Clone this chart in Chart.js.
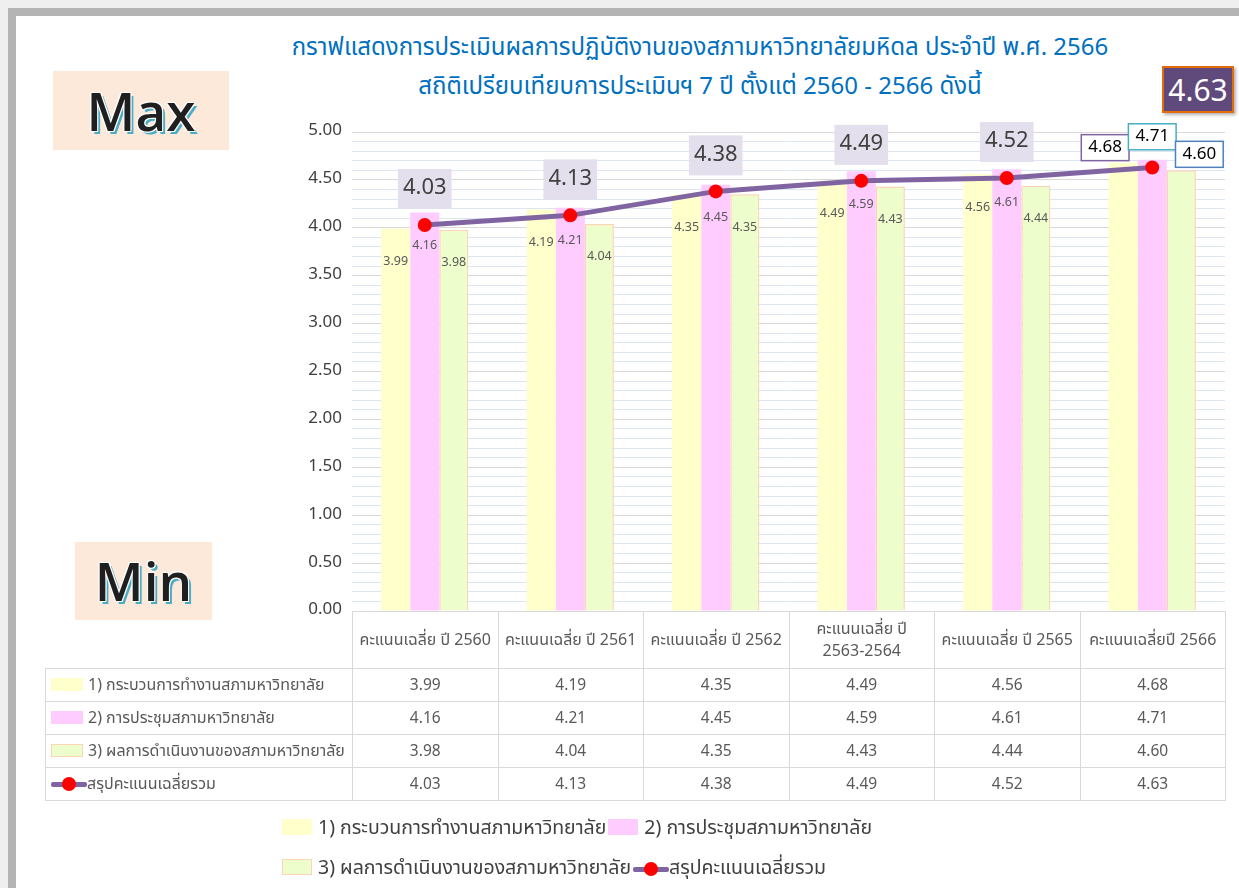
<!DOCTYPE html>
<html>
<head>
<meta charset="utf-8">
<script src="https://cdn.jsdelivr.net/npm/chart.js@4.4.0/dist/chart.umd.min.js"></script>
<style>
  body { margin: 0; width: 1239px; height: 888px; overflow: hidden; background: #efefef; position: relative;
         font-family: 'Noto Sans Thai', Tahoma, 'Noto Sans', 'DejaVu Sans', sans-serif; }
  #frame { position: absolute; left: 8px; top: 8px; right: 0; bottom: 0; background: #b4b4b4; }
  #page { position: absolute; left: 16px; top: 16px; right: 0; bottom: 0; background: #fff; }
  #wrap { position: absolute; left: 0; top: 0; width: 1239px; height: 888px; }
  .title { position: absolute; left: 150px; width: 1100px; text-align: center; color: #0070c0; font-size: 24px; line-height: 30px; }
  .tag { position: absolute; background: #fde9d9; text-align: center; font-family: 'Open Sans', sans-serif; font-weight: 600;
         font-size: 53px; color: #1f1f1f;
         text-shadow: 1px 1px 0 #fff, -1px -1px 0 #fff, 1px -1px 0 #fff, -1px 1px 0 #fff, 3px 3px 0 #4bacc6; }
  #total { position: absolute; left: 1162px; top: 66px; width: 68px; height: 43px; background: #604a7b; border: 2px solid #e46c0a;
           color: #fff; font-size: 30px; line-height: 43px; text-align: center; font-family: 'Noto Sans', sans-serif;
           box-shadow: 2px 2px 3px rgba(0,0,0,0.3); }
  #tbl { position: absolute; left: 45px; top: 611px; width: 1180px; border-collapse: collapse; table-layout: fixed;
         font-size: 15.5px; color: #595959; }
  #tbl td { border: 1px solid #d9d9d9; text-align: center; padding: 0; height: 32px; }
  #tbl tr.hd td { height: 56px; line-height: 22px; font-size: 16px; white-space: pre-line; }
  #tbl td.blank { border: none; border-bottom: 1px solid #d9d9d9; }
  #tbl td.lab { text-align: left; padding-left: 5px; white-space: nowrap; font-size: 16px; }
  .sw { display: inline-block; width: 32px; height: 13px; vertical-align: -1px; margin-right: 5px; box-sizing: border-box; }
  .ln { display: inline-block; width: 36px; height: 14px; position: relative; vertical-align: -2px; }
  .ln::before { content: ''; position: absolute; left: 0; right: 0; top: 5px; height: 5px; background: #8064a2; border-radius: 2px; }
  .ln::after { content: ''; position: absolute; left: 11px; top: 0; width: 14px; height: 14px; border-radius: 50%; background: #ff0000; }
  #legend { position: absolute; left: 282px; top: 814px; font-size: 19.5px; color: #404040; }
  #legend .row { height: 40px; line-height: 28px; white-space: nowrap; }
  #legend .sw { width: 30px; height: 16px; vertical-align: -1px; margin-right: 6px; }
  #legend .item { margin-right: 2px; }
</style>
</head>
<body>
<div id="frame"></div>
<div id="page"></div>
<div class="title" style="top:33px">กราฟแสดงการประเมินผลการปฏิบัติงานของสภามหาวิทยาลัยมหิดล ประจำปี พ.ศ. 2566</div>
<div class="title" style="top:72px">สถิติเปรียบเทียบการประเมินฯ 7 ปี ตั้งแต่ 2560 - 2566 ดังนี้</div>
<div class="tag" style="left:53px;top:71px;width:176px;height:79px;line-height:79px">Max</div>
<div class="tag" style="left:75px;top:542px;width:137px;height:78px;line-height:78px">Min</div>
<div id="total"></div>
<div id="wrap"><canvas id="chart" width="1239" height="888"></canvas></div>
<table id="tbl"></table>
<div id="legend"></div>
<script>
const categories = ['คะแนนเฉลี่ย ปี 2560', 'คะแนนเฉลี่ย ปี 2561', 'คะแนนเฉลี่ย ปี 2562',
                    'คะแนนเฉลี่ย ปี\n2563-2564', 'คะแนนเฉลี่ย ปี 2565', 'คะแนนเฉลี่ยปี 2566'];
const seriesNames = ['1) กระบวนการทำงานสภามหาวิทยาลัย', '2) การประชุมสภามหาวิทยาลัย',
                     '3) ผลการดำเนินงานของสภามหาวิทยาลัย', 'สรุปคะแนนเฉลี่ยรวม'];
const processScores = [3.99, 4.19, 4.35, 4.49, 4.56, 4.68];
const meetingScores = [4.16, 4.21, 4.45, 4.59, 4.61, 4.71];
const resultScores = [3.98, 4.04, 4.35, 4.43, 4.44, 4.60];
const averageScores = [4.03, 4.13, 4.38, 4.49, 4.52, 4.63];
const yMin = 0, yMax = 5, yStep = 0.1;

const barColors = ['#ffffcc', '#ffccff', '#eefdcc'];
const barBorders = ['#ffffcc', '#ffccff', '#fcd5b4'];
const lastBoxBorders = ['#8064a2', '#4bacc6', '#4f81bd'];
const FONT = "'Noto Sans Thai', Tahoma, 'Noto Sans', sans-serif";

// value labels: small text inside the bars, boxed labels for the line
const valueLabels = {
  id: 'valueLabels',
  afterDatasetsDraw(chart) {
    const ctx = chart.ctx;
    const last = categories.length - 1;
    ctx.save();
    ctx.textAlign = 'center';
    ctx.textBaseline = 'middle';
    [0, 1, 2].forEach(di => {
      const meta = chart.getDatasetMeta(di);
      meta.data.forEach((bar, i) => {
        const txt = chart.data.datasets[di].data[i].toFixed(2);
        if (i < last) {
          ctx.font = '12.5px ' + FONT;
          ctx.fillStyle = '#595959';
          ctx.fillText(txt, bar.x, bar.y + 34);
        } else {
          const dx = [-18, 0, 18][di], dy = [-15, -23, -16][di];
          ctx.font = '17px ' + FONT;
          const w = ctx.measureText(txt).width + 14, h = 26;
          const cx = bar.x + dx, cy = bar.y + dy;
          ctx.fillStyle = '#fff';
          ctx.fillRect(cx - w / 2, cy - h / 2, w, h);
          ctx.strokeStyle = lastBoxBorders[di];
          ctx.lineWidth = 1.5;
          ctx.strokeRect(cx - w / 2, cy - h / 2, w, h);
          ctx.fillStyle = '#000';
          ctx.fillText(txt, cx, cy + 1);
        }
      });
    });
    const lineMeta = chart.getDatasetMeta(3);
    lineMeta.data.forEach((pt, i) => {
      if (i === last) return;
      const txt = averageScores[i].toFixed(2);
      ctx.font = '22px ' + FONT;
      const w = ctx.measureText(txt).width + 10, h = 40;
      const cy = pt.y - 36;
      ctx.fillStyle = '#e4dfec';
      ctx.fillRect(pt.x - w / 2, cy - h / 2, w, h);
      ctx.fillStyle = '#404040';
      ctx.fillText(txt, pt.x, cy + 1);
    });
    ctx.restore();
  }
};

const barSets = [processScores, meetingScores, resultScores].map((d, i) => ({
  type: 'bar',
  label: seriesNames[i],
  data: d,
  backgroundColor: barColors[i],
  borderColor: barBorders[i],
  borderWidth: i === 2 ? 1.5 : 0,
  barPercentage: 1,
  categoryPercentage: 0.6,
  order: 1
}));

new Chart(document.getElementById('chart'), {
  type: 'bar',
  data: {
    labels: categories,
    datasets: [...barSets, {
      type: 'line',
      label: seriesNames[3],
      data: averageScores,
      borderColor: '#8064a2',
      borderWidth: 5,
      pointRadius: 7,
      pointBackgroundColor: '#ff0000',
      pointBorderWidth: 0,
      tension: 0,
      order: 0
    }]
  },
  options: {
    responsive: false,
    animation: false,
    layout: { padding: { left: 0, top: 132, right: 14, bottom: 277 } },
    plugins: { legend: { display: false }, tooltip: { enabled: false } },
    scales: {
      x: { display: false },
      y: {
        min: yMin, max: yMax,
        afterFit: s => { s.width = 352; },
        border: { display: false },
        grid: {
          drawTicks: false,
          color: c => (Math.round(c.tick.value * 10) % 5 === 0 ? '#d9d9d9' : '#dce6f2'),
          lineWidth: 1
        },
        ticks: {
          stepSize: yStep,
          autoSkip: false,
          padding: 10,
          color: '#404040',
          font: { size: 17, family: FONT },
          callback: v => (Math.round(v * 10) % 5 === 0 ? v.toFixed(2) : '')
        }
      }
    }
  },
  plugins: [valueLabels]
});

document.getElementById('total').textContent = averageScores[averageScores.length - 1].toFixed(2);

// data table under the plot
const swatches = [
  '<span class="sw" style="background:#ffffcc"></span>',
  '<span class="sw" style="background:#ffccff"></span>',
  '<span class="sw" style="background:#eefdcc;border:1.5px solid #fcd5b4"></span>',
  '<span class="ln"></span>'
];
const rows = [processScores, meetingScores, resultScores, averageScores];
let html = '<colgroup><col style="width:307px">' + categories.map(() => '<col style="width:145.5px">').join('') + '</colgroup>';
html += '<tr class="hd"><td class="blank"></td>' + categories.map(c => '<td>' + c + '</td>').join('') + '</tr>';
rows.forEach((r, i) => {
  html += '<tr><td class="lab">' + swatches[i] + seriesNames[i] + '</td>' + r.map(v => '<td>' + v.toFixed(2) + '</td>').join('') + '</tr>';
});
document.getElementById('tbl').innerHTML = html;

// legend below the table
const item = i => '<span class="item">' + swatches[i] + seriesNames[i] + '</span>';
document.getElementById('legend').innerHTML =
  '<div class="row">' + item(0) + item(1) + '</div><div class="row">' + item(2) + item(3) + '</div>';
</script>
</body>
</html>
